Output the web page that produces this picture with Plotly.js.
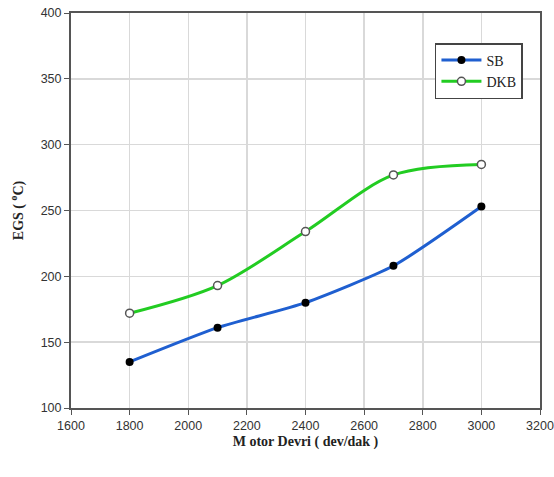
<!DOCTYPE html>
<html><head><meta charset="utf-8">
<script src="https://cdn.plot.ly/plotly-3.0.1.min.js"></script>
<style>html,body{margin:0;padding:0;background:#fff}#c{width:554px;height:477px}</style>
</head><body><div id="c"></div>
<script>
const rpm = [1800, 2100, 2400, 2700, 3000];
const sb = [135, 161, 180, 208, 253];
const dkb = [172, 193, 234, 277, 285];
const xTicks = [1600, 1800, 2000, 2200, 2400, 2600, 2800, 3000, 3200];
const yTicks = [100, 150, 200, 250, 300, 350, 400];

const traces = [
  {x: rpm, y: sb, name: 'SB', mode: 'lines+markers', line: {color: '#1f5fd0', width: 3, shape: 'spline', smoothing: 0.6},
   marker: {color: '#000', size: 8}},
  {x: rpm, y: dkb, name: 'DKB', mode: 'lines+markers', line: {color: '#22cc22', width: 3, shape: 'spline', smoothing: 0.9},
   marker: {color: '#fff', size: 8, line: {color: '#555', width: 1.5}}}
];
const axisCommon = {showline: true, linecolor: '#555', linewidth: 2, mirror: true, ticks: 'outside', ticklen: 5, tickcolor: '#555',
  showgrid: true, gridcolor: '#d9d9d9', gridwidth: 1.5, zeroline: false, automargin: false, ticklabeloverflow: 'allow',
  tickfont: {family: 'Liberation Sans, Arial', size: 12.5, color: '#333'}};
const layout = {
  width: 554, height: 477, paper_bgcolor: '#fff', plot_bgcolor: '#fff',
  margin: {l: 71, r: 14, t: 13, b: 69},
  showlegend: true,
  legend: {x: 0.776, y: 0.924, xanchor: 'left', yanchor: 'top', bordercolor: '#444', borderwidth: 1.5,
    font: {family: 'Liberation Serif, Times New Roman', size: 14, color: '#222'}, tracegroupgap: 0, itemwidth: 40},
  xaxis: Object.assign({}, axisCommon, {range: [1600, 3200], tickvals: xTicks,
    title: {text: 'M otor Devri ( dev/dak )', font: {family: 'Liberation Serif, Times New Roman', size: 14, color: '#222', weight: 'bold'}, standoff: 4}}),
  yaxis: Object.assign({}, axisCommon, {range: [100, 400], tickvals: yTicks,
    title: {text: 'EGS ( <sup>o</sup>C)', font: {family: 'Liberation Serif, Times New Roman', size: 14, color: '#222', weight: 'bold'}, standoff: 14}})
};
Plotly.newPlot('c', traces, layout, {displayModeBar: false, staticPlot: true});
</script></body></html>
